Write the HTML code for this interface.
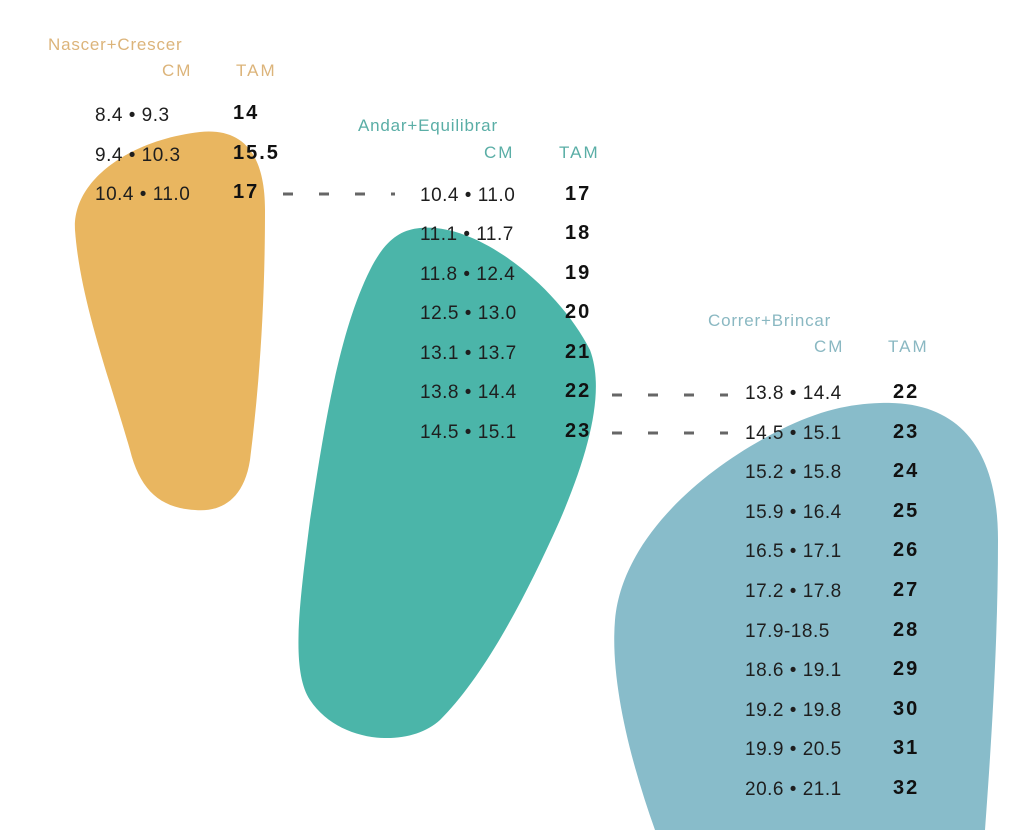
<!DOCTYPE html>
<html><head><meta charset="utf-8"><style>
html,body{margin:0;padding:0;background:#fff;width:1024px;height:830px;overflow:hidden}
text{font-family:"Liberation Sans",sans-serif}
.n{font-size:19px;fill:#1e1e1e;letter-spacing:0.5px}
.t{font-size:20px;fill:#111;font-weight:bold;letter-spacing:2px}
.h{font-size:17px;letter-spacing:0.8px}
.c{font-size:17px;letter-spacing:2px}
</style></head><body>
<svg width="1024" height="830" viewBox="0 0 1024 830" xmlns="http://www.w3.org/2000/svg">
<path fill="#e9b660" d="M200 132 C240 128 265 150 265 210 C265 300 260 380 250 460 C243 505 215 512 195 510 C160 508 140 490 130 450 C110 380 80 300 75 230 C72 180 130 140 200 132 Z"/>
<path fill="#4bb5a9" d="M420 228 C480 222 560 290 590 350 C605 390 590 450 560 520 C520 610 480 680 440 720 C410 748 340 745 310 700 C290 670 300 600 310 520 C325 420 340 330 370 270 C385 240 400 230 420 228 Z"/>
<path fill="#88bcca" d="M880 403 C960 400 998 450 998 540 C998 650 990 760 985 830 L655 830 C630 760 610 680 615 620 C622 540 700 470 780 430 C820 410 850 404 880 403 Z"/>
<g stroke="#666" stroke-width="3" stroke-dasharray="10 26">
<line x1="283" y1="194" x2="395" y2="194"/>
<line x1="612" y1="395" x2="728" y2="395"/>
<line x1="612" y1="433" x2="728" y2="433"/>
</g>
<text x="48" y="50" class="h" fill="#dcb47a">Nascer+Crescer</text>
<text x="162" y="76" class="c" fill="#dcb47a">CM</text>
<text x="236" y="76" class="c" fill="#dcb47a">TAM</text>
<g class="n"><text x="95" y="121">8.4 • 9.3</text><text x="95" y="161">9.4 • 10.3</text><text x="95" y="200">10.4 • 11.0</text></g>
<g class="t"><text x="233" y="119">14</text><text x="233" y="159">15.5</text><text x="233" y="198">17</text></g>
<text x="358" y="131" class="h" fill="#5aaea6">Andar+Equilibrar</text>
<text x="484" y="158" class="c" fill="#5aaea6">CM</text>
<text x="559" y="158" class="c" fill="#5aaea6">TAM</text>
<g class="n">
<text x="420" y="201">10.4 • 11.0</text><text x="420" y="240">11.1 • 11.7</text><text x="420" y="280">11.8 • 12.4</text><text x="420" y="319">12.5 • 13.0</text><text x="420" y="359">13.1 • 13.7</text><text x="420" y="398">13.8 • 14.4</text><text x="420" y="438">14.5 • 15.1</text></g>
<g class="t">
<text x="565" y="200">17</text><text x="565" y="239">18</text><text x="565" y="279">19</text><text x="565" y="318">20</text><text x="565" y="358">21</text><text x="565" y="397">22</text><text x="565" y="437">23</text></g>
<text x="708" y="326" class="h" fill="#8ab8c2">Correr+Brincar</text>
<text x="814" y="352" class="c" fill="#8ab8c2">CM</text>
<text x="888" y="352" class="c" fill="#8ab8c2">TAM</text>
<g class="n">
<text x="745" y="399">13.8 • 14.4</text><text x="745" y="439">14.5 • 15.1</text><text x="745" y="478">15.2 • 15.8</text><text x="745" y="518">15.9 • 16.4</text><text x="745" y="557">16.5 • 17.1</text><text x="745" y="597">17.2 • 17.8</text><text x="745" y="637">17.9-18.5</text><text x="745" y="676">18.6 • 19.1</text><text x="745" y="716">19.2 • 19.8</text><text x="745" y="755">19.9 • 20.5</text><text x="745" y="795">20.6 • 21.1</text></g>
<g class="t">
<text x="893" y="398">22</text><text x="893" y="438">23</text><text x="893" y="477">24</text><text x="893" y="517">25</text><text x="893" y="556">26</text><text x="893" y="596">27</text><text x="893" y="636">28</text><text x="893" y="675">29</text><text x="893" y="715">30</text><text x="893" y="754">31</text><text x="893" y="794">32</text></g>
</svg>
</body></html>
